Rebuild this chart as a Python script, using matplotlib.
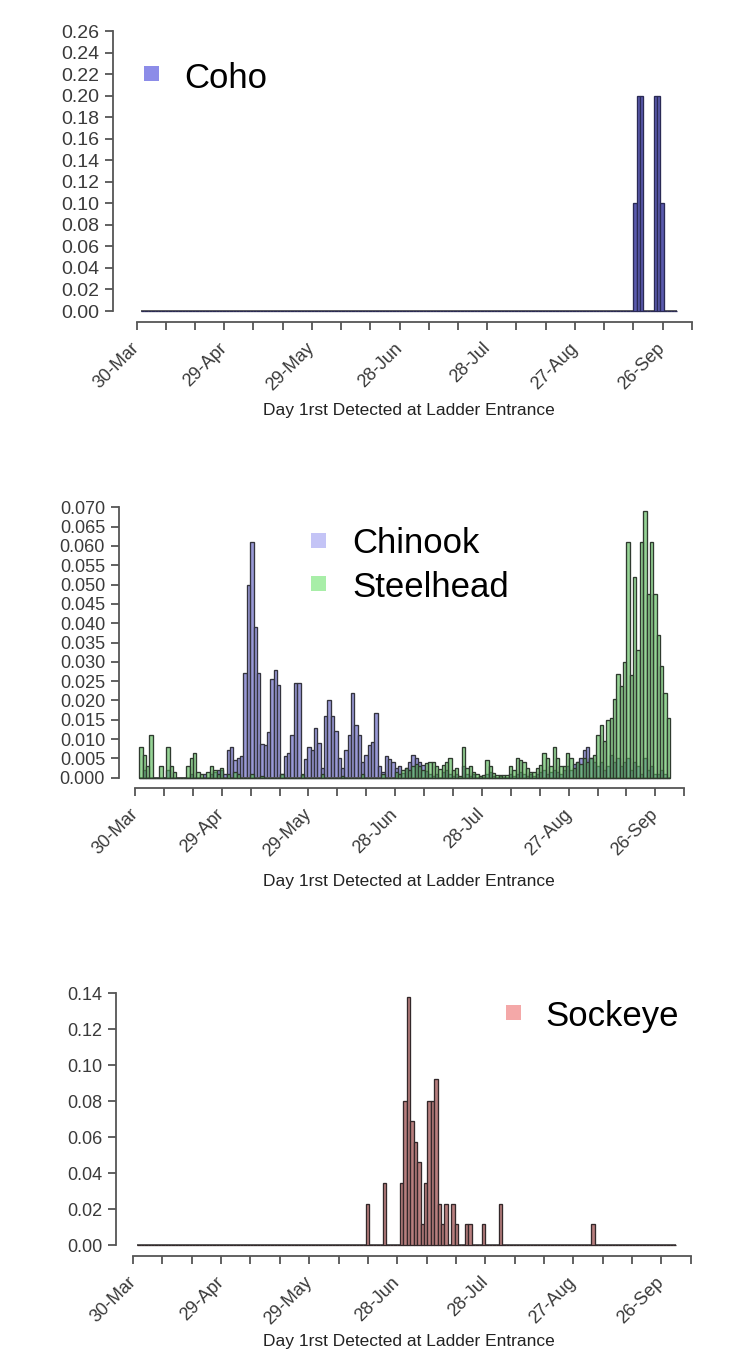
import datetime as dt
import numpy as np
import matplotlib
matplotlib.use("Agg")
import matplotlib.pyplot as plt
from matplotlib.patches import Rectangle

plt.rcParams["font.family"] = ["Liberation Sans", "DejaVu Sans"]

# ---------------------------------------------------------------------------
# Histogram bins, in days after 30-Mar
# ---------------------------------------------------------------------------
BIN_START = 1.49
BIN_WIDTH = 1.162
N_BINS = 158

SEASON_START = dt.date(2013, 3, 30)
TICK_DAYS = list(range(0, 191, 10))
LABEL_DAYS = list(range(0, 181, 30))
XLABEL = "Day 1rst Detected at Ladder Entrance"

# Coho: proportion of fish per bin (sparse)
coho_bins = [145, 146, 147, 151, 152, 153]
coho_share = [0.10, 0.20, 0.20, 0.20, 0.20, 0.10]

# Sockeye: proportion of fish per bin (sparse)
sockeye_bins = [67, 72, 77, 78, 79, 80, 81, 82, 83, 84, 85, 86, 87, 88, 89, 90,
                92, 93, 96, 97, 101, 106, 133]
sockeye_share = [0.023, 0.0345, 0.0345, 0.080, 0.138, 0.069, 0.0575, 0.046,
                 0.0115, 0.0345, 0.080, 0.080, 0.092, 0.023, 0.0115, 0.023,
                 0.023, 0.0115, 0.0115, 0.0115, 0.0115, 0.023, 0.0115]

# Chinook: proportion of fish per bin (all bins)
chinook_share = [
    0, .002, 0, 0, 0, 0, 0, 0, .002, 0,                                   # 0-9
    0, 0, 0, 0, 0, .001, 0, 0, 0, .001,                                   # 10-19
    0, .001, .0015, .002, .002, .001, .0072, .008, .0046, .005,           # 20-29
    .0057, .027, .050, .061, .039, .027, .0086, .0085, .0118, .0256,      # 30-39
    .028, .024, .001, .0057, .0063, .011, .0245, .0245, .0007, .0048,     # 40-49
    .008, .0072, .0128, .009, .0024, .016, .020, .016, .012, .005,        # 50-59
    .0024, .0072, .011, .022, .0137, .011, .004, .006, .0085, .0093,      # 60-69
    .0167, .0029, .0016, .0057, .0048, .0041, .0024, .0029, .0011, .0024, # 70-79
    .0041, .006, .005, .0041, .0033, .0017, .001, .0005, .001, 0,         # 80-89
    .0015, .002, .001, .0005, .001, 0, .003, .001, .0005, .001,           # 90-99
    0, .0005, 0, .001, .0015, .0005, 0, .0005, 0, 0,                      # 100-109
    .001, .0005, .001, .0015, .001, .0005, .001, .0005, .001, .0015,      # 110-119
    .002, .001, .0015, .002, .0015, .001, .002, .003, .002, .0035,        # 120-129
    .004, .005, .0072, .008, .005, .004, .003, .004, .002, .003,          # 130-139
    .006, .004, .005, .003, .004, .005, .002, .004, .003, .001,           # 140-149
    .005, .002, .003, .001, .001, .002, .001, 0,                          # 150-157
]

# Steelhead: proportion of fish per bin (all bins)
steelhead_share = [
    .008, .006, .003, .011, 0, 0, .003, 0, .008, .003,                    # 0-9
    .0015, 0, 0, 0, .003, .005, .0063, .0015, .001, 0,                    # 10-19
    .0015, .003, .002, .001, .0024, 0, .001, 0, .0015, .001,              # 20-29
    0, 0, 0, .001, 0, 0, .0005, 0, 0, 0,                                  # 30-39
    0, 0, .001, 0, 0, 0, 0, 0, .001, 0,                                   # 40-49
    0, 0, 0, 0, .001, 0, 0, 0, 0, 0,                                      # 50-59
    .0005, 0, 0, 0, 0, 0, .001, 0, 0, 0,                                  # 60-69
    0, 0, .001, 0, 0, 0, .0015, .001, .002, .0024,                        # 70-79
    .002, .003, .0035, .003, .002, .0037, .0041, .0041, .0029, .0022,     # 80-89
    .0033, .0041, .005, .002, .0024, .0005, .008, .0024, .0029, .0016,    # 90-99
    .001, .0005, .0007, .0046, .0029, .0011, .0007, .0007, .0007, .0007,  # 100-109
    .0031, .002, .005, .0046, .0041, .0024, .0016, .0016, .0024, .0033,   # 110-119
    .0063, .005, .0031, .008, .005, .0031, .0029, .0063, .005, .0024,     # 120-129
    .0041, .0035, .005, .004, .005, .006, .011, .0137, .0095, .015,       # 130-139
    .0155, .0204, .0268, .0238, .030, .061, .0266, .052, .033, .061,      # 140-149
    .069, .0475, .061, .0475, .037, .029, .022, .0155,                    # 150-157
]

W, H = 751, 1371
fig = plt.figure(figsize=(W / 100, H / 100), dpi=100)
fig.patch.set_facecolor("white")

AXIS_COLOR = "#555555"
TEXT_COLOR = "#3a3a3a"


def spread(bins, shares):
    vals = np.zeros(N_BINS)
    vals[np.asarray(bins)] = shares
    return vals


def fig_xy(px, py):
    return px / W, 1 - py / H


def make_panel(yaxis_px, day0_px, px_per_day, y0_px, ytop_px, ymax, xaxis_px,
               ystep, yfmt, ysize):
    right_px = 716
    top_px = ytop_px - 12
    left, bottom = fig_xy(yaxis_px, xaxis_px)
    right, top = fig_xy(right_px, top_px)
    ax = fig.add_axes([left, bottom, right - left, top - bottom])
    ax.set_xlim((yaxis_px - day0_px) / px_per_day, (right_px - day0_px) / px_per_day)
    vpp = ymax / (y0_px - ytop_px)
    ax.set_ylim(-(xaxis_px - y0_px) * vpp, (y0_px - top_px) * vpp)
    for s in ("top", "right"):
        ax.spines[s].set_visible(False)
    for s in ("left", "bottom"):
        ax.spines[s].set_color(AXIS_COLOR)
        ax.spines[s].set_linewidth(1.3)
    ax.spines["left"].set_bounds(0, ymax)
    ax.spines["bottom"].set_bounds(TICK_DAYS[0], TICK_DAYS[-1])

    yt = np.round(np.arange(0, ymax + ystep / 2, ystep), 4)
    ax.set_yticks(yt)
    ax.set_yticklabels([yfmt.format(v) for v in yt], fontsize=ysize, color=TEXT_COLOR)
    ax.set_xticks(TICK_DAYS)
    labels = []
    for d in TICK_DAYS:
        if d in LABEL_DAYS:
            day = SEASON_START + dt.timedelta(days=d)
            labels.append(f"{day.day}-{day.strftime('%b')}")
        else:
            labels.append("")
    ax.set_xticklabels(labels, rotation=45, ha="right", va="center",
                       rotation_mode="anchor", fontsize=13, color=TEXT_COLOR)
    ax.tick_params(axis="both", direction="out", length=6, width=1.3,
                   color=AXIS_COLOR)
    ax.tick_params(axis="x", pad=11)
    ax.tick_params(axis="y", pad=4)
    ax.patch.set_alpha(0)
    return ax


edges = BIN_START + BIN_WIDTH * np.arange(N_BINS)
end_day = BIN_START + BIN_WIDTH * N_BINS


def draw_hist(ax, vals, face, edge, lw=0.95, z=2):
    ax.plot([BIN_START, end_day], [0, 0], color="#555555", lw=1.3, zorder=z - 0.5,
            solid_capstyle="butt")
    ax.bar(edges, vals, width=BIN_WIDTH, align="edge", color=face,
           edgecolor=edge, linewidth=lw, zorder=z)


def legend_entry(px, py, color, text, text_px, baseline_py, size=15):
    x, y = fig_xy(px - size / 2, py + size / 2)
    fig.patches.append(Rectangle((x, y), size / W, size / H, transform=fig.transFigure,
                                 facecolor=color, edgecolor="none"))
    tx, ty = fig_xy(text_px, baseline_py)
    fig.text(tx, ty, text, fontsize=25, color="black", ha="left", va="baseline")


# ---------------------------- Coho ----------------------------------------
ax1 = make_panel(113, 136.6, 2.922, 311, 31, 0.26, 322, 0.02, "{:.2f}", 14)
draw_hist(ax1, spread(coho_bins, coho_share), "#5a5aae", "#2a2a55")
legend_entry(151, 73, "#8c8ce8", "Coho", 184, 88)
fig.text(*fig_xy(409, 415), XLABEL, fontsize=12.5, color="#222222",
         ha="center", va="baseline")

# ---------------------------- Chinook / Steelhead -------------------------
ax2 = make_panel(119, 135, 2.891, 777.7, 507.3, 0.070, 788, 0.005, "{:.3f}", 13)
draw_hist(ax2, np.asarray(chinook_share), (0.50, 0.50, 0.80, 0.80), "#34343e", z=2)
draw_hist(ax2, np.asarray(steelhead_share), (0.33, 0.72, 0.33, 0.62), "#2f3a2f", z=3)
legend_entry(318, 540, "#c4c4f6", "Chinook", 352, 553)
legend_entry(318, 583, "#a8eea8", "Steelhead", 352, 597)
fig.text(*fig_xy(409, 886), XLABEL, fontsize=12.5, color="#222222",
         ha="center", va="baseline")

# ---------------------------- Sockeye -------------------------------------
ax3 = make_panel(116, 133, 2.936, 1245, 993, 0.14, 1256, 0.02, "{:.2f}", 13)
draw_hist(ax3, spread(sockeye_bins, sockeye_share), "#b87e7e", "#33282a")
legend_entry(513, 1012, "#f4a8a8", "Sockeye", 545, 1026)
fig.text(*fig_xy(409, 1346), XLABEL, fontsize=12.5, color="#222222",
         ha="center", va="baseline")

fig.savefig("out.png", dpi=100, facecolor="white")
